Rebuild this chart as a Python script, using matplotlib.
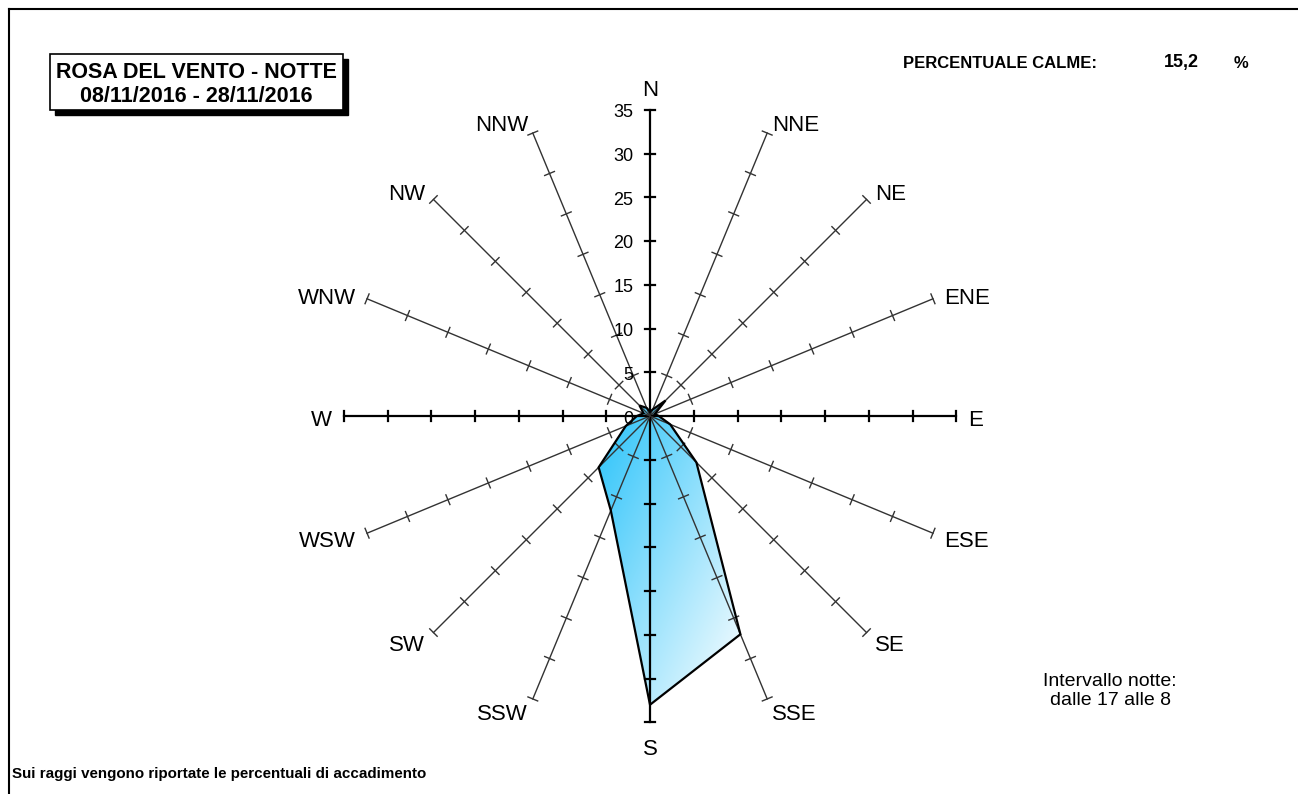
import numpy as np
import matplotlib
matplotlib.use("Agg")
import matplotlib.pyplot as plt
from matplotlib.patches import Polygon, Rectangle
from matplotlib.lines import Line2D

plt.rcParams['font.family'] = ['Liberation Sans', 'DejaVu Sans']

# data
directions = ['N', 'NNE', 'NE', 'ENE', 'E', 'ESE', 'SE', 'SSE',
              'S', 'SSW', 'SW', 'WSW', 'W', 'WNW', 'NW', 'NNW']
frequency = [0.5, 0.8, 2.5, 0.6, 1.0, 2.5, 7.5, 27.0,
             33.0, 11.7, 8.3, 3.0, 1.5, 0.8, 1.7, 1.0]
radial_ticks = [0, 5, 10, 15, 20, 25, 30, 35]
calme = "15,2"
title_lines = ["ROSA DEL VENTO - NOTTE", "08/11/2016 - 28/11/2016"]

W, H = 1298, 794
fig = plt.figure(figsize=(W / 100, H / 100), dpi=100)
ax = fig.add_axes([0, 0, 1, 1])
ax.axis('off')

# pixel scale: centre of rose and px per unit
cx, cy, s = 650, 416, 8.75
xlim = (-cx / s, (W - cx) / s)
ylim = (-(H - cy) / s, cy / s)

theta = np.deg2rad(np.arange(16) * 22.5)
rmax = radial_ticks[-1]

# filled polygon with gradient
r = np.array(frequency)
px = r * np.sin(theta)
py = r * np.cos(theta)
poly = Polygon(np.column_stack([px, py]), closed=True, facecolor='none',
               edgecolor='none')
ax.add_patch(poly)
x0, x1, y0, y1 = px.min(), px.max(), py.min(), py.max()
n = 300
gx, gy = np.meshgrid(np.linspace(0, 1, n), np.linspace(0, 1, n))
t = np.clip((gx + gy) / 2.0, 0, 1)  # top-left dark -> bottom-right white
c0 = np.array([0.15, 0.76, 0.98])
c1 = np.array([1.0, 1.0, 1.0])
img = c0[None, None, :] * (1 - t[..., None]) + c1[None, None, :] * t[..., None]
im = ax.imshow(img, extent=[x0, x1, y0, y1], origin='upper', zorder=1,
               interpolation='bilinear', aspect='auto')
im.set_clip_path(poly)
ax.set_xlim(*xlim)
ax.set_ylim(*ylim)

# spokes
tick_half = 0.6
dy_txt = -4 / s  # small downward nudge for labels
for i, th in enumerate(theta):
    ux, uy = np.sin(th), np.cos(th)
    vx, vy = -uy, ux
    main = i % 4 == 0
    col = 'black' if main else '#333333'
    lw = 1.6 if main else 1.0
    ax.plot([0, rmax * ux], [0, rmax * uy], color=col, lw=lw, zorder=2)
    for tv in radial_ticks[1:]:
        ax.plot([tv * ux - tick_half * vx, tv * ux + tick_half * vx],
                [tv * uy - tick_half * vy, tv * uy + tick_half * vy],
                color=col, lw=lw, zorder=2)
    if i in (0, 8):
        rl, ha = rmax + 23 / s, 'center'
    else:
        rl = rmax + 12 / s
        ha = 'left' if ux > 0 else 'right'
    ax.text(rl * ux, rl * uy + dy_txt, directions[i], ha=ha, va='center',
            fontsize=16)

# polygon outline
ax.add_patch(Polygon(np.column_stack([px, py]), closed=True, facecolor='none',
                     edgecolor='black', lw=1.6, zorder=3))

# radial tick labels on N spoke
for tv in radial_ticks:
    ax.text(-1.9, tv - 3 / s, str(tv), ha='right', va='center', fontsize=13,
            zorder=4)

# frame lines
fig.add_artist(Line2D([9 / W, 9 / W], [0, 1 - 9 / H], color='black', lw=1.5,
                      transform=fig.transFigure))
fig.add_artist(Line2D([9 / W, 1], [1 - 9 / H, 1 - 9 / H], color='black', lw=1.5,
                      transform=fig.transFigure))

# title box with shadow
bx, by, bw, bh = 50, 54, 293, 56
fig.add_artist(Rectangle(((bx + 5) / W, 1 - (by + bh + 5) / H), bw / W, bh / H,
                         facecolor='black', edgecolor='black',
                         transform=fig.transFigure, zorder=5))
fig.add_artist(Rectangle((bx / W, 1 - (by + bh) / H), bw / W, bh / H,
                         facecolor='white', edgecolor='black', lw=1.2,
                         transform=fig.transFigure, zorder=6))
fig.text((bx + bw / 2) / W, 1 - 72 / H, title_lines[0], ha='center',
         va='center', fontsize=15.5, fontweight='bold', zorder=7)
fig.text((bx + bw / 2) / W, 1 - 96 / H, title_lines[1], ha='center',
         va='center', fontsize=15.5, fontweight='bold', zorder=7)

# calme
fig.text(903 / W, 1 - 63 / H, "PERCENTUALE CALME:", ha='left', va='center',
         fontsize=12, fontweight='bold')
fig.text(1181 / W, 1 - 63 / H, calme, ha='center', va='center',
         fontsize=13, fontweight='bold')
fig.text(1241 / W, 1 - 63 / H, "%", ha='center', va='center',
         fontsize=12, fontweight='bold')

# notes
fig.text(1110 / W, 1 - 691 / H, "Intervallo notte:\ndalle 17 alle 8",
         ha='center', va='center', fontsize=14, linespacing=1.1)
fig.text(12 / W, 1 - 774 / H,
         "Sui raggi vengono riportate le percentuali di accadimento",
         ha='left', va='center', fontsize=10.9, fontweight='bold')

fig.savefig('out.png', dpi=100)
